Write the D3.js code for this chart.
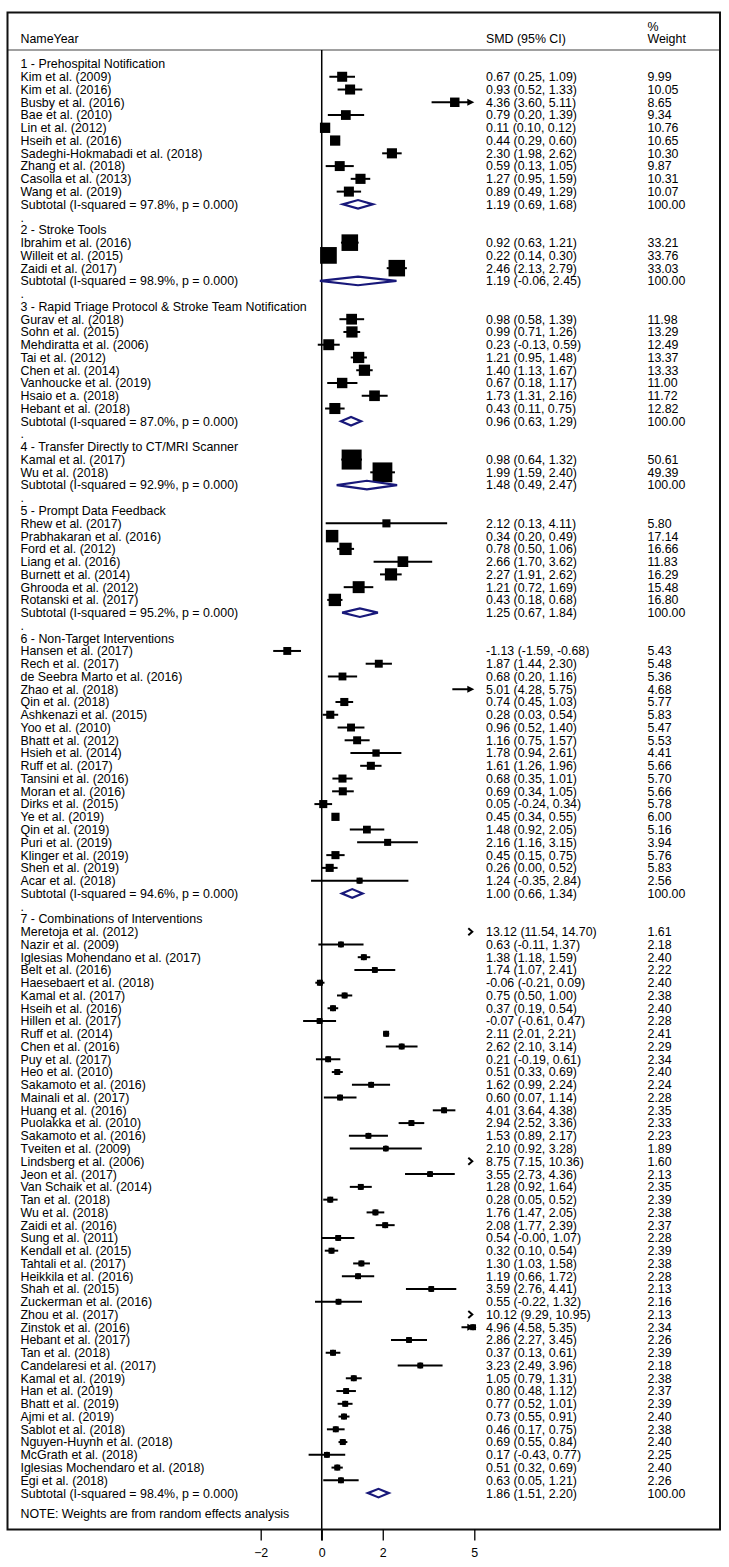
<!DOCTYPE html>
<html><head><meta charset="utf-8">
<script src="https://cdn.jsdelivr.net/npm/d3@7"></script>
<style>
body{margin:0;background:#fff}
text{font-family:"Liberation Sans",Arial,sans-serif;font-size:12.4px;fill:#000}
</style>
</head><body><svg id="c" width="729" height="1567"></svg>
<script>
// ---------------- data ----------------
const groupTitles = [
  "1 - Prehospital Notification",
  "2 - Stroke Tools",
  "3 - Rapid Triage Protocol & Stroke Team Notification",
  "4 - Transfer Directly to CT/MRI Scanner",
  "5 - Prompt Data Feedback",
  "6 - Non-Target Interventions",
  "7 - Combinations of Interventions"
];
const groupSizes = [10, 3, 8, 2, 7, 19, 44];
const subtotalI2 = ["97.8", "98.9", "87.0", "92.9", "95.2", "94.6", "98.4"];
const subtotalP = ["0.000", "0.000", "0.000", "0.000", "0.000", "0.000", "0.000"];
const subtotalSMD = [1.19, 1.19, 0.96, 1.48, 1.25, 1.00, 1.86];
const subtotalLow = [0.69, -0.06, 0.63, 0.49, 0.67, 0.66, 1.51];
const subtotalHigh = [1.68, 2.45, 1.29, 2.47, 1.84, 1.34, 2.20];
const subtotalWeight = [100, 100, 100, 100, 100, 100, 100];

const studyNames = [
  // 1
  "Kim et al. (2009)", "Kim et al. (2016)", "Busby et al. (2016)", "Bae et al. (2010)", "Lin et al. (2012)",
  "Hseih et al. (2016)", "Sadeghi-Hokmabadi et al. (2018)", "Zhang et al. (2018)", "Casolla et al. (2013)", "Wang et al. (2019)",
  // 2
  "Ibrahim et al. (2016)", "Willeit et al. (2015)", "Zaidi et al. (2017)",
  // 3
  "Gurav et al. (2018)", "Sohn et al. (2015)", "Mehdiratta et al. (2006)", "Tai et al. (2012)", "Chen et al. (2014)",
  "Vanhoucke et al. (2019)", "Hsaio et a. (2018)", "Hebant et al. (2018)",
  // 4
  "Kamal et al. (2017)", "Wu et al. (2018)",
  // 5
  "Rhew et al. (2017)", "Prabhakaran et al. (2016)", "Ford et al. (2012)", "Liang et al. (2016)", "Burnett et al. (2014)",
  "Ghrooda et al. (2012)", "Rotanski et al. (2017)",
  // 6
  "Hansen et al. (2017)", "Rech et al. (2017)", "de Seebra Marto et al. (2016)", "Zhao et al. (2018)", "Qin et al. (2018)",
  "Ashkenazi et al. (2015)", "Yoo et al. (2010)", "Bhatt et al. (2012)", "Hsieh et al. (2014)", "Ruff et al. (2017)",
  "Tansini et al. (2016)", "Moran et al. (2016)", "Dirks et al. (2015)", "Ye et al. (2019)", "Qin et al. (2019)",
  "Puri et al. (2019)", "Klinger et al. (2019)", "Shen et al. (2019)", "Acar et al. (2018)",
  // 7
  "Meretoja et al. (2012)", "Nazir et al. (2009)", "Iglesias Mohendano et al. (2017)", "Belt et al. (2016)", "Haesebaert et al. (2018)",
  "Kamal et al. (2017)", "Hseih et al. (2016)", "Hillen et al. (2017)", "Ruff et al. (2014)", "Chen et al. (2016)",
  "Puy et al. (2017)", "Heo et al. (2010)", "Sakamoto et al. (2016)", "Mainali et al. (2017)", "Huang et al. (2016)",
  "Puolakka et al. (2010)", "Sakamoto et al. (2016)", "Tveiten et al. (2009)", "Lindsberg et al. (2006)", "Jeon et al. (2017)",
  "Van Schaik et al. (2014)", "Tan et al. (2018)", "Wu et al. (2018)", "Zaidi et al. (2016)", "Sung et al. (2011)",
  "Kendall et al. (2015)", "Tahtali et al. (2017)", "Heikkila et al. (2016)", "Shah et al. (2015)", "Zuckerman et al. (2016)",
  "Zhou et al. (2017)", "Zinstok et al. (2016)", "Hebant et al. (2017)", "Tan et al. (2018)", "Candelaresi et al. (2017)",
  "Kamal et al. (2019)", "Han et al. (2019)", "Bhatt et al. (2019)", "Ajmi et al. (2019)", "Sablot et al. (2018)",
  "Nguyen-Huynh et al. (2018)", "McGrath et al. (2018)", "Iglesias Mochendaro et al. (2018)", "Egi et al. (2018)"
];
const studySMD = [
  0.67, 0.93, 4.36, 0.79, 0.11, 0.44, 2.30, 0.59, 1.27, 0.89,
  0.92, 0.22, 2.46,
  0.98, 0.99, 0.23, 1.21, 1.40, 0.67, 1.73, 0.43,
  0.98, 1.99,
  2.12, 0.34, 0.78, 2.66, 2.27, 1.21, 0.43,
  -1.13, 1.87, 0.68, 5.01, 0.74, 0.28, 0.96, 1.16, 1.78, 1.61, 0.68, 0.69, 0.05, 0.45, 1.48, 2.16, 0.45, 0.26, 1.24,
  13.12, 0.63, 1.38, 1.74, -0.06, 0.75, 0.37, -0.07, 2.11, 2.62, 0.21, 0.51, 1.62, 0.60, 4.01, 2.94, 1.53, 2.10, 8.75, 3.55,
  1.28, 0.28, 1.76, 2.08, 0.54, 0.32, 1.30, 1.19, 3.59, 0.55, 10.12, 4.96, 2.86, 0.37, 3.23, 1.05, 0.80, 0.77, 0.73, 0.46,
  0.69, 0.17, 0.51, 0.63
];
const studyLow = [
  0.25, 0.52, 3.60, 0.20, 0.10, 0.29, 1.98, 0.13, 0.95, 0.49,
  0.63, 0.14, 2.13,
  0.58, 0.71, -0.13, 0.95, 1.13, 0.18, 1.31, 0.11,
  0.64, 1.59,
  0.13, 0.20, 0.50, 1.70, 1.91, 0.72, 0.18,
  -1.59, 1.44, 0.20, 4.28, 0.45, 0.03, 0.52, 0.75, 0.94, 1.26, 0.35, 0.34, -0.24, 0.34, 0.92, 1.16, 0.15, 0.00, -0.35,
  11.54, -0.11, 1.18, 1.07, -0.21, 0.50, 0.19, -0.61, 2.01, 2.10, -0.19, 0.33, 0.99, 0.07, 3.64, 2.52, 0.89, 0.92, 7.15, 2.73,
  0.92, 0.05, 1.47, 1.77, -0.00, 0.10, 1.03, 0.66, 2.76, -0.22, 9.29, 4.58, 2.27, 0.13, 2.49, 0.79, 0.48, 0.52, 0.55, 0.17,
  0.55, -0.43, 0.32, 0.05
];
const studyHigh = [
  1.09, 1.33, 5.11, 1.39, 0.12, 0.60, 2.62, 1.05, 1.59, 1.29,
  1.21, 0.30, 2.79,
  1.39, 1.26, 0.59, 1.48, 1.67, 1.17, 2.16, 0.75,
  1.32, 2.40,
  4.11, 0.49, 1.06, 3.62, 2.62, 1.69, 0.68,
  -0.68, 2.30, 1.16, 5.75, 1.03, 0.54, 1.40, 1.57, 2.61, 1.96, 1.01, 1.05, 0.34, 0.55, 2.05, 3.15, 0.75, 0.52, 2.84,
  14.70, 1.37, 1.59, 2.41, 0.09, 1.00, 0.54, 0.47, 2.21, 3.14, 0.61, 0.69, 2.24, 1.14, 4.38, 3.36, 2.17, 3.28, 10.36, 4.36,
  1.64, 0.52, 2.05, 2.39, 1.07, 0.54, 1.58, 1.72, 4.41, 1.32, 10.95, 5.35, 3.45, 0.61, 3.96, 1.31, 1.12, 1.01, 0.91, 0.75,
  0.84, 0.77, 0.69, 1.21
];
const studyWeight = [
  9.99, 10.05, 8.65, 9.34, 10.76, 10.65, 10.30, 9.87, 10.31, 10.07,
  33.21, 33.76, 33.03,
  11.98, 13.29, 12.49, 13.37, 13.33, 11.00, 11.72, 12.82,
  50.61, 49.39,
  5.80, 17.14, 16.66, 11.83, 16.29, 15.48, 16.80,
  5.43, 5.48, 5.36, 4.68, 5.77, 5.83, 5.47, 5.53, 4.41, 5.66, 5.70, 5.66, 5.78, 6.00, 5.16, 3.94, 5.76, 5.83, 2.56,
  1.61, 2.18, 2.40, 2.22, 2.40, 2.38, 2.40, 2.28, 2.41, 2.29, 2.34, 2.40, 2.24, 2.28, 2.35, 2.33, 2.23, 1.89, 1.60, 2.13,
  2.35, 2.39, 2.38, 2.37, 2.28, 2.39, 2.38, 2.28, 2.13, 2.16, 2.13, 2.34, 2.26, 2.39, 2.18, 2.38, 2.37, 2.39, 2.40, 2.38,
  2.40, 2.25, 2.40, 2.26
];
const xTicks = [-2, 0, 2, 5];
const headerLabels = {name: "NameYear", smd: "SMD (95% CI)", pct: "%", weight: "Weight"};
const noteText = "NOTE: Weights are from random effects analysis";

// ---------------- drawing ----------------
(function draw() {
const svg = d3.select("#c");
const fmt0 = d3.formatLocale({decimal: ".", thousands: ",", grouping: [3], currency: ["", ""], minus: "-"}).format(".2f");
// keep the sign of a negative zero, as in the source table ("-0.00")
const fmt = v => (Object.is(v, -0) || (v < 0 && !fmt0(v).startsWith("-"))) ? "-" + fmt0(Math.abs(v)) : fmt0(v);
const ciText = (m, l, h) => `${fmt(m)} (${fmt(l)}, ${fmt(h)})`;

const rows = [];
let r = 0, s = 0;
groupTitles.forEach((g, gi) => {
  rows.push({type: "title", label: g, i: r++});
  for (let k = 0; k < groupSizes[gi]; k++, s++) {
    rows.push({type: "study", label: studyNames[s], m: studySMD[s], l: studyLow[s], h: studyHigh[s], w: studyWeight[s], i: r++});
  }
  rows.push({type: "sub", label: `Subtotal  (I-squared = ${subtotalI2[gi]}%, p = ${subtotalP[gi]})`,
    m: subtotalSMD[gi], l: subtotalLow[gi], h: subtotalHigh[gi], w: subtotalWeight[gi], i: r++});
  if (gi < groupTitles.length - 1) rows.push({type: "blank", label: ".", i: r++});
});
const lastRow = r - 1;

const x = d3.scaleLinear().domain([-2, 5]).range([260.7, 474.3]);
const y = d3.scaleLinear().domain([0, lastRow]).range([64, 64 + lastRow * 12.76]);
const [xmin, xmax] = x.domain();

const bL = 7.5, bR = 720, bT = 12.5, bB = 1529.5;
const colName = 20.5, colSMD = 486, colW = 647.5;
const dy = 4.4;

svg.append("line").attr("x1", bL).attr("x2", bR).attr("y1", 50).attr("y2", 50)
  .attr("stroke", "#a0a0a0").attr("stroke-width", 2);

svg.append("text").attr("x", colName).attr("y", 39 + dy).text(headerLabels.name);
svg.append("text").attr("x", colSMD).attr("y", 39 + dy).text(headerLabels.smd);
svg.append("text").attr("x", colW).attr("y", 26.5 + dy).text(headerLabels.pct);
svg.append("text").attr("x", colW).attr("y", 39 + dy).text(headerLabels.weight);

svg.append("line").attr("x1", x(0)).attr("x2", x(0)).attr("y1", 50).attr("y2", bB + 11)
  .attr("stroke", "#000").attr("stroke-width", 1.5);

const tg = svg.append("g");
rows.forEach(d => {
  const yy = y(d.i) + dy;
  tg.append("text").attr("x", colName).attr("y", yy).text(d.label);
  if (d.type === "study" || d.type === "sub") {
    tg.append("text").attr("x", colSMD).attr("y", yy).text(ciText(d.m, d.l, d.h));
    tg.append("text").attr("x", colW).attr("y", yy).text(fmt(d.w));
  }
});
svg.append("text").attr("x", colName).attr("y", y(lastRow) + 20 + dy).text(noteText);

const mg = svg.append("g");
const boxSize = w => 2.53 * Math.sqrt(w) + 2;
rows.filter(d => d.type === "study").forEach(d => {
  const yy = y(d.i);
  if (d.l >= xmax) {
    const xe = x(xmax);
    mg.append("path").attr("d", `M${xe - 6},${yy - 3.5}L${xe - 2},${yy}L${xe - 6},${yy + 3.5}`)
      .attr("fill", "none").attr("stroke", "#000").attr("stroke-width", 2);
    return;
  }
  const x1 = x(Math.max(d.l, xmin));
  const over = d.h > xmax;
  const x2 = over ? x(xmax) - 5 : x(d.h);
  mg.append("line").attr("x1", x1).attr("x2", x2).attr("y1", yy).attr("y2", yy)
    .attr("stroke", "#000").attr("stroke-width", 2);
  if (over) {
    const xe = x(xmax);
    mg.append("path").attr("d", `M${xe},${yy}L${xe - 7},${yy - 3.5}L${xe - 7},${yy + 3.5}Z`).attr("fill", "#000");
  }
  if (d.m <= xmax && d.m >= xmin) {
    const b = boxSize(d.w);
    mg.append("rect").attr("x", x(d.m) - b / 2).attr("y", yy - b / 2).attr("width", b).attr("height", b).attr("fill", "#000");
    mg.append("circle").attr("cx", x(d.m)).attr("cy", yy).attr("r", 3).attr("fill", "#000");
  }
});

rows.filter(d => d.type === "sub").forEach(d => {
  const yy = y(d.i), hh = 4.3;
  mg.append("path")
    .attr("d", `M${x(d.l)},${yy}L${x(d.m)},${yy - hh}L${x(d.h)},${yy}L${x(d.m)},${yy + hh}Z`)
    .attr("fill", "#fff").attr("stroke", "#18187a").attr("stroke-width", 2.2);
});

svg.append("rect").attr("x", bL).attr("y", bT).attr("width", bR - bL).attr("height", bB - bT)
  .attr("fill", "none").attr("stroke", "#111").attr("stroke-width", 2);

const axis = d3.axisBottom(x).tickValues(xTicks).tickSize(11).tickPadding(8).tickFormat(d3.format("d"));
const ag = svg.append("g").attr("transform", `translate(0,${bB})`).call(axis);
ag.select(".domain").remove();
ag.selectAll(".tick line").attr("stroke", "#000").attr("stroke-width", 1.3);
ag.selectAll(".tick text").attr("font-family", "Liberation Sans, Arial, sans-serif").attr("font-size", "12.4px").attr("fill", "#000");
})();
</script>
</body></html>
